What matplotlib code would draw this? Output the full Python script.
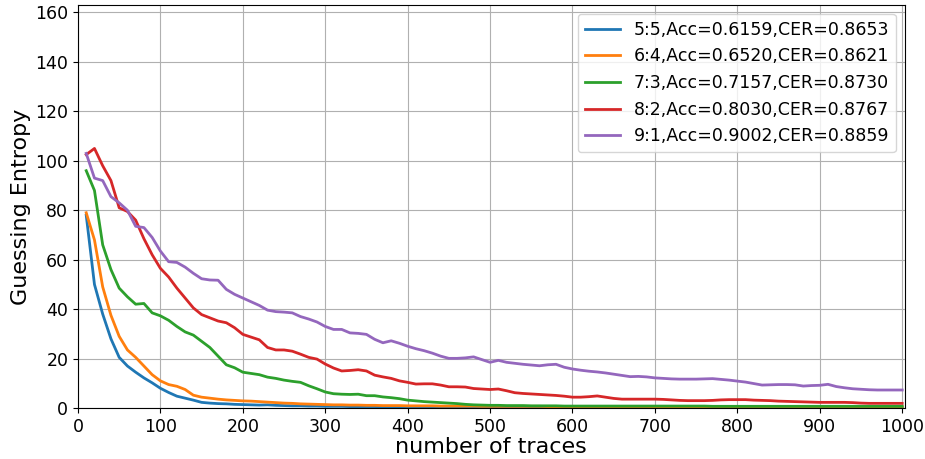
import matplotlib
matplotlib.use('Agg')
import matplotlib.pyplot as plt

traces = list(range(10, 1001, 10))

ge_55 = [78, 50, 38, 28, 20.5, 17, 14.5, 12.2, 10.2, 8,
         6.3, 4.8, 4.0, 3.2, 2.3, 2.0, 1.8, 1.7, 1.5, 1.4,
         1.3, 1.2, 1.3, 1.1, 1.0, 0.9, 0.9, 0.8, 0.8, 0.7,
         0.7, 0.7, 0.6, 0.6, 0.6, 0.6, 0.5, 0.5, 0.5, 0.5,
         0.5, 0.5, 0.4, 0.4, 0.4, 0.4, 0.4, 0.4, 0.4, 0.4,
         0.4, 0.4, 0.3, 0.3, 0.3, 0.3, 0.3, 0.3, 0.3, 0.3,
         0.3, 0.3, 0.3, 0.3, 0.3, 0.3, 0.3, 0.3, 0.3, 0.3,
         0.3, 0.3, 0.3, 0.3, 0.3, 0.2, 0.2, 0.2, 0.2, 0.2,
         0.2, 0.2, 0.2, 0.2, 0.2, 0.2, 0.2, 0.2, 0.2, 0.2,
         0.2, 0.2, 0.2, 0.2, 0.2, 0.2, 0.2, 0.2, 0.2, 0.2]

ge_64 = [79, 68, 49, 37.5, 29, 23.5, 20.5, 17, 13.5, 11,
         9.5, 8.8, 7.5, 5.2, 4.4, 4.0, 3.6, 3.3, 3.1, 2.9,
         2.8, 2.6, 2.4, 2.2, 2.0, 1.9, 1.7, 1.6, 1.5, 1.4,
         1.3, 1.3, 1.2, 1.2, 1.1, 1.1, 1.0, 1.0, 1.0, 0.9,
         0.9, 0.9, 0.9, 0.8, 0.8, 0.8, 0.8, 0.8, 0.7, 0.7,
         0.7, 0.7, 0.7, 0.7, 0.7, 0.7, 0.6, 0.6, 0.6, 0.6,
         0.6, 0.6, 0.6, 0.6, 0.6, 0.6, 0.6, 0.6, 0.6, 0.5,
         0.5, 0.5, 0.5, 0.5, 0.5, 0.5, 0.5, 0.5, 0.5, 0.5,
         0.5, 0.5, 0.5, 0.5, 0.5, 0.5, 0.5, 0.5, 0.5, 0.5,
         0.5, 0.5, 0.5, 0.5, 0.5, 0.5, 0.5, 0.5, 0.5, 0.5]

ge_73 = [96, 88, 66, 56, 48.5, 45, 42, 42.3, 38.5, 37.3,
         35.5, 33, 30.8, 29.5, 27, 24.5, 21, 17.5, 16.3, 14.5,
         14, 13.5, 12.5, 12, 11.3, 10.8, 10.4, 9.0, 7.8, 6.5,
         5.8, 5.6, 5.5, 5.6, 5.0, 5.0, 4.5, 4.2, 3.8, 3.2,
         2.9, 2.6, 2.4, 2.2, 2.0, 1.8, 1.5, 1.3, 1.2, 1.1,
         1.1, 1.0, 1.0, 1.0, 0.9, 0.9, 0.9, 0.9, 0.8, 0.8,
         0.8, 0.8, 0.8, 0.8, 0.8, 0.8, 0.8, 0.8, 0.8, 0.8,
         0.8, 0.8, 0.8, 0.8, 0.8, 0.8, 0.7, 0.7, 0.7, 0.7,
         0.7, 0.7, 0.7, 0.7, 0.7, 0.7, 0.7, 0.7, 0.7, 0.7,
         0.7, 0.7, 0.7, 0.7, 0.7, 0.7, 0.7, 0.7, 0.7, 0.7]

ge_82 = [102.5, 105, 98, 92, 81, 79.5, 76, 68.5, 62, 56.5,
         53, 48.5, 44.5, 40.5, 37.8, 36.5, 35.2, 34.5, 32.5, 29.8,
         28.7, 27.6, 24.5, 23.5, 23.5, 23, 21.8, 20.5, 19.8, 17.8,
         16.2, 15, 15.2, 15.5, 15.0, 13.3, 12.6, 12, 11, 10.4,
         9.7, 9.8, 9.8, 9.3, 8.6, 8.6, 8.5, 7.9, 7.7, 7.5,
         7.7, 7.0, 6.2, 5.9, 5.7, 5.5, 5.3, 5.1, 4.8, 4.4,
         4.4, 4.6, 4.9, 4.4, 3.9, 3.6, 3.6, 3.6, 3.6, 3.6,
         3.5, 3.3, 3.1, 3.0, 3.0, 3.0, 3.1, 3.3, 3.4, 3.4,
         3.4, 3.2, 3.1, 3.0, 2.8, 2.7, 2.6, 2.5, 2.4, 2.3,
         2.3, 2.3, 2.3, 2.2, 2.0, 1.9, 1.9, 1.9, 1.9, 1.9]

ge_91 = [103, 93, 92, 85.5, 83, 80, 73.5, 73, 69, 63.5,
         59.2, 58.9, 57, 54.5, 52.3, 51.8, 51.7, 48, 46, 44.5,
         43, 41.5, 39.6, 39, 38.8, 38.5, 37, 36, 34.8, 33,
         31.8, 31.8, 30.4, 30.2, 29.8, 27.8, 26.4, 27.2, 26.2, 25,
         24, 23.2, 22.2, 21, 20.1, 20.1, 20.3, 20.7, 19.6, 18.5,
         19.3, 18.5, 18.1, 17.7, 17.4, 17.1, 17.5, 17.7, 16.5, 15.8,
         15.3, 14.9, 14.6, 14.2, 13.7, 13.2, 12.7, 12.8, 12.6, 12.2,
         12.0, 11.8, 11.7, 11.7, 11.7, 11.8, 11.9, 11.6, 11.3, 10.9,
         10.5, 9.9, 9.3, 9.4, 9.5, 9.5, 9.4, 8.9, 9.1, 9.2,
         9.6, 8.7, 8.2, 7.8, 7.6, 7.4, 7.3, 7.3, 7.3, 7.3]

labels = ['5:5,Acc=0.6159,CER=0.8653',
          '6:4,Acc=0.6520,CER=0.8621',
          '7:3,Acc=0.7157,CER=0.8730',
          '8:2,Acc=0.8030,CER=0.8767',
          '9:1,Acc=0.9002,CER=0.8859']

fig = plt.figure(figsize=(9.25, 4.59), dpi=100)
ax = fig.add_axes([0.0843, 0.111, 0.8937, 0.878])

for ge, lab in zip([ge_55, ge_64, ge_73, ge_82, ge_91], labels):
    ax.plot(traces, ge, linewidth=2, label=lab)

ax.set_xlim(0, 1003)
ax.set_ylim(0, 163)
ax.set_xticks(range(0, 1001, 100))
ax.set_yticks(range(0, 161, 20))
ax.tick_params(labelsize=12.5)
ax.set_xlabel('number of traces', fontsize=16, labelpad=1)
ax.set_ylabel('Guessing Entropy', fontsize=16, labelpad=3)
ax.grid(True)
ax.legend(loc='upper right', fontsize=12.5)

fig.savefig('out.png', dpi=100)
